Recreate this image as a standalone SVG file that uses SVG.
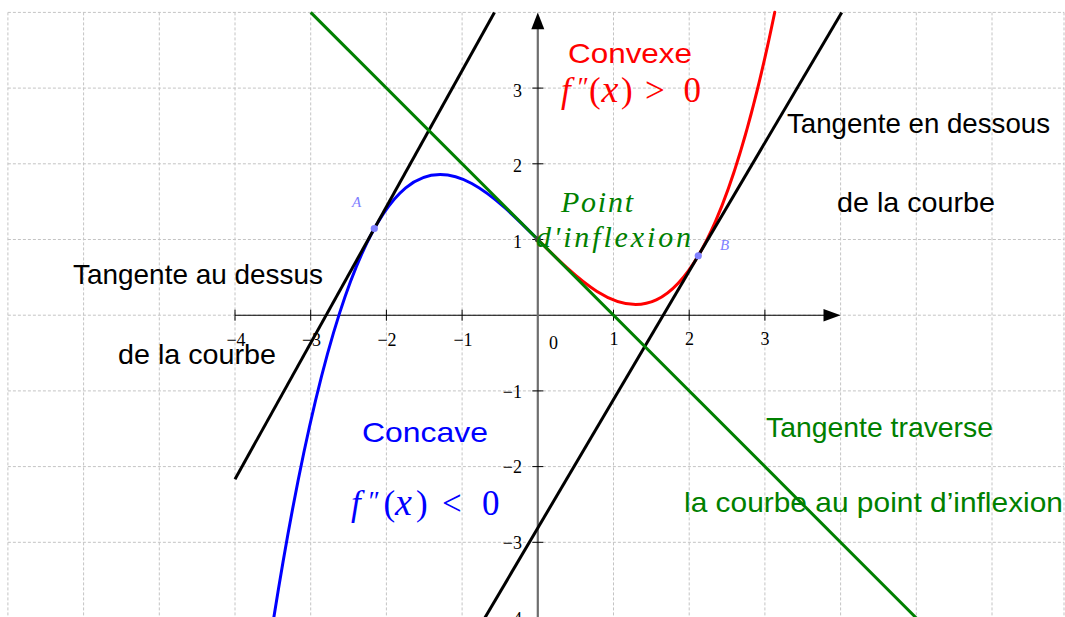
<svg xmlns="http://www.w3.org/2000/svg" width="1065" height="617" viewBox="0 0 1065 617">
<style>
.grid line{stroke:#c4c4c4;stroke-width:1;stroke-dasharray:3 2}
.tick{stroke:#000;stroke-width:1}
.tl{font-family:"Liberation Serif","DejaVu Serif",serif;font-size:18px;fill:#000}
.sans{font-family:"Liberation Sans","DejaVu Sans",sans-serif;font-size:28px}
.math{font-family:"Liberation Serif","DejaVu Serif",serif;font-size:35px}
.it{font-style:italic}
.curve{fill:none;stroke-width:3;stroke-linecap:round}
.tan{fill:none;stroke-width:3}
.pt{fill:#8080ff}
.ptl{font-family:"Liberation Serif","DejaVu Serif",serif;font-style:italic;font-size:15px;fill:#8080ff}
</style>
<rect width="1065" height="617" fill="#fff"/>
<g id="grid" class="grid">
<line x1="7.9" y1="12.4" x2="7.9" y2="617"/>
<line x1="83.6" y1="12.4" x2="83.6" y2="617"/>
<line x1="159.3" y1="12.4" x2="159.3" y2="617"/>
<line x1="235" y1="12.4" x2="235" y2="617"/>
<line x1="310.7" y1="12.4" x2="310.7" y2="617"/>
<line x1="386.4" y1="12.4" x2="386.4" y2="617"/>
<line x1="462.1" y1="12.4" x2="462.1" y2="617"/>
<line x1="613.5" y1="12.4" x2="613.5" y2="617"/>
<line x1="689.2" y1="12.4" x2="689.2" y2="617"/>
<line x1="764.9" y1="12.4" x2="764.9" y2="617"/>
<line x1="840.6" y1="12.4" x2="840.6" y2="617"/>
<line x1="916.3" y1="12.4" x2="916.3" y2="617"/>
<line x1="992" y1="12.4" x2="992" y2="617"/>
<line x1="1064" y1="12.4" x2="1064" y2="617"/>
<line x1="7.9" y1="12.4" x2="1064" y2="12.4"/>
<line x1="7.9" y1="88.1" x2="1064" y2="88.1"/>
<line x1="7.9" y1="163.8" x2="1064" y2="163.8"/>
<line x1="7.9" y1="239.5" x2="1064" y2="239.5"/>
<line x1="7.9" y1="315.2" x2="1064" y2="315.2"/>
<line x1="7.9" y1="390.9" x2="1064" y2="390.9"/>
<line x1="7.9" y1="466.6" x2="1064" y2="466.6"/>
<line x1="7.9" y1="542.3" x2="1064" y2="542.3"/>
</g>
<g id="axes">
<line x1="235" y1="315.2" x2="826" y2="315.2" stroke="#000" stroke-width="1.1"/>
<polygon points="840.6,315.2 823.5,309 823.5,321.4" fill="#000"/>
<line x1="537.8" y1="617" x2="537.8" y2="27" stroke="#6e6e6e" stroke-width="2.2"/>
<polygon points="537.8,12.4 531.3,29.2 544.3,29.2" fill="#000"/>
<g class="tick">
<line x1="235" y1="309.7" x2="235" y2="320.7"/>
<line x1="310.7" y1="309.7" x2="310.7" y2="320.7"/>
<line x1="386.4" y1="309.7" x2="386.4" y2="320.7"/>
<line x1="462.1" y1="309.7" x2="462.1" y2="320.7"/>
<line x1="613.5" y1="309.7" x2="613.5" y2="320.7"/>
<line x1="689.2" y1="309.7" x2="689.2" y2="320.7"/>
<line x1="764.9" y1="309.7" x2="764.9" y2="320.7"/>
<line x1="532.3" y1="88.1" x2="543.3" y2="88.1"/>
<line x1="532.3" y1="163.8" x2="543.3" y2="163.8"/>
<line x1="532.3" y1="239.5" x2="543.3" y2="239.5"/>
<line x1="532.3" y1="390.9" x2="543.3" y2="390.9"/>
<line x1="532.3" y1="466.6" x2="543.3" y2="466.6"/>
<line x1="532.3" y1="542.3" x2="543.3" y2="542.3"/>
</g>
<g class="tl" text-anchor="middle">
<text x="236" y="345.5">−4</text>
<text x="311.5" y="345.5">−3</text>
<text x="387" y="345.5">−2</text>
<text x="463" y="345.5">−1</text>
<text x="553.5" y="348.5">0</text>
<text x="614" y="345">1</text>
<text x="689.5" y="345">2</text>
<text x="765" y="345">3</text>
</g>
<g class="tl" text-anchor="end">
<text x="522" y="96.5">3</text>
<text x="522" y="172">2</text>
<text x="522" y="247.5">1</text>
<text x="522" y="397.5">−1</text>
<text x="522" y="473">−2</text>
<text x="522" y="549">−3</text>
<text x="522" y="625">−4</text>
</g>
</g>
<g id="curve-concave">
<path class="curve" stroke="#0000ff" d="M273.61,618.88 C361.67,63.37 449.74,151.44 537.8,239.5"/>
</g>
<g id="curve-convexe">
<path class="curve" stroke="#ff0000" d="M537.8,239.5 C616.78,318.48 695.76,397.46 774.74,12.19"/>
</g>
<g id="tangents">
<line id="tangent-A" class="tan" stroke="#000" x1="235" y1="479.2" x2="494.42" y2="12.4"/>
<line id="tangent-B" class="tan" stroke="#000" x1="484.76" y1="618" x2="841.7" y2="12.4"/>
<line id="tangent-inflexion" class="tan" stroke="#008000" x1="310.7" y1="12.4" x2="916.3" y2="618"/>
</g>
<g id="points">
<circle id="inflexion-pt" cx="537.8" cy="239.5" r="3" fill="#444"/>
<circle id="pt-A" class="pt" cx="374.29" cy="228.56" r="3.6"/>
<circle id="pt-B" class="pt" cx="698.28" cy="255.73" r="3.6"/>
<text class="ptl" x="352" y="207">A</text>
<text class="ptl" x="720" y="250">B</text>
</g>
<g id="label-convexe" fill="#ff0000">
<text class="sans" x="568" y="63.3" font-size="34" textLength="124" lengthAdjust="spacingAndGlyphs">Convexe</text>
<text class="math"><tspan class="it" x="561" y="101.5">f</tspan><tspan class="it" x="576" y="96" font-size="27">″</tspan><tspan x="589" y="101.5">(</tspan><tspan class="it" x="601.5" y="101.5" font-size="38">x</tspan><tspan x="621" y="101.5">)</tspan><tspan x="645" y="101.5">&gt;</tspan><tspan x="683.5" y="101.5">0</tspan></text>
</g>
<g id="label-concave" fill="#0000ff">
<text class="sans" x="362" y="442" font-size="34" textLength="126" lengthAdjust="spacingAndGlyphs">Concave</text>
<text class="math"><tspan class="it" x="351" y="515">f</tspan><tspan class="it" x="367" y="509.5" font-size="27">″</tspan><tspan x="383.5" y="515">(</tspan><tspan class="it" x="395" y="515" font-size="38">x</tspan><tspan x="416" y="515">)</tspan><tspan x="442" y="515">&lt;</tspan><tspan x="482" y="515">0</tspan></text>
</g>
<g id="label-inflexion" fill="#008000" font-family="'Liberation Serif','DejaVu Serif',serif" font-style="italic" font-size="30">
<text x="561" y="211.5" textLength="72" lengthAdjust="spacing">Point</text>
<text x="536" y="246.5" textLength="155" lengthAdjust="spacing">d'inflexion</text>
</g>
<g id="label-tangente-dessous" fill="#000">
<text class="sans" x="787" y="133" textLength="263" lengthAdjust="spacingAndGlyphs">Tangente en dessous</text>
<text class="sans" x="837" y="212" textLength="158" lengthAdjust="spacingAndGlyphs">de la courbe</text>
</g>
<g id="label-tangente-dessus" fill="#000">
<text class="sans" x="73" y="283.5" textLength="250" lengthAdjust="spacingAndGlyphs">Tangente au dessus</text>
<text class="sans" x="118" y="363.5" textLength="158" lengthAdjust="spacingAndGlyphs">de la courbe</text>
</g>
<g id="label-tangente-traverse" fill="#008000">
<text class="sans" x="766" y="437" textLength="227" lengthAdjust="spacingAndGlyphs">Tangente traverse</text>
<text class="sans" x="684" y="512" textLength="379" lengthAdjust="spacingAndGlyphs">la courbe au point d’inflexion</text>
</g>
</svg>
